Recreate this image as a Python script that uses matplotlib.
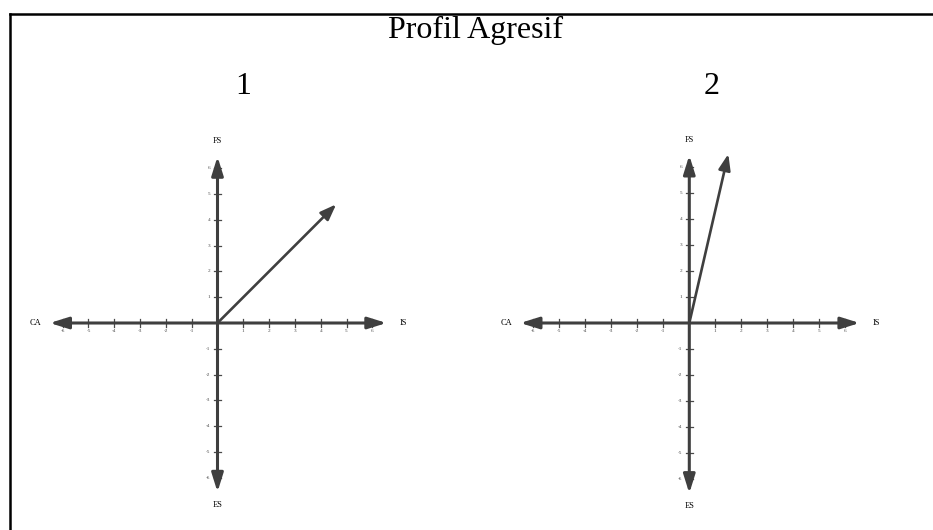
import numpy as np
import matplotlib
matplotlib.use('Agg')
import matplotlib.pyplot as plt
from matplotlib.lines import Line2D

plt.rcParams['font.family'] = ['Liberation Serif', 'DejaVu Serif']

title = 'Profil Agresif'
panel_names = ['1', '2']
# vector end point (IS/CA axis, FS/ES axis) for each panel
vec_x = [4.6, 1.5]
vec_y = [4.6, 6.5]
tick_values = [-6, -5, -4, -3, -2, -1, 1, 2, 3, 4, 5, 6]
axis_names = ['CA', 'IS', 'FS', 'ES']

DARK = '#3f3f3f'
LIM = 7.6


def draw_quadrant(ax, vx, vy):
    """Draws the two arrowed axes, ticks and the vector"""
    ax.set_xlim(-LIM, LIM)
    ax.set_ylim(-LIM, LIM)
    ax.axis('off')
    arrow_style = '<|-|>,head_length=0.8,head_width=0.25'
    ax.annotate('', xy=(6.55, 0), xytext=(-6.5, 0),
                arrowprops=dict(arrowstyle=arrow_style, color=DARK, lw=2.2,
                                shrinkA=0, shrinkB=0, mutation_scale=14))
    ax.annotate('', xy=(0, 6.45), xytext=(0, -6.55),
                arrowprops=dict(arrowstyle=arrow_style, color=DARK, lw=2.2,
                                shrinkA=0, shrinkB=0, mutation_scale=14))
    for t in tick_values:
        ax.plot([t, t], [-0.14, 0.14], color='#4a4a4a', lw=0.9)
        ax.plot([-0.14, 0.14], [t, t], color='#4a4a4a', lw=0.9)
        ax.text(t, -0.32, str(t), fontsize=3.8, ha='center', va='center',
                color='#4a4a4a')
        ax.text(-0.28, t, str(t), fontsize=3.8, ha='right', va='center',
                color='#4a4a4a')
    ax.annotate('', xy=(vx, vy), xytext=(0, 0),
                arrowprops=dict(arrowstyle='-|>,head_length=0.8,head_width=0.3',
                                color=DARK, lw=1.9, shrinkA=0, shrinkB=0,
                                mutation_scale=12))
    ax.text(-7.05, 0, axis_names[0], fontsize=6, ha='center', va='center')
    ax.text(7.2, 0, axis_names[1], fontsize=6, ha='center', va='center')
    ax.text(0, 7.05, axis_names[2], fontsize=6, ha='center', va='center')
    ax.text(0, -7.05, axis_names[3], fontsize=6, ha='center', va='center')


fig = plt.figure(figsize=(9.33, 5.30), dpi=100)
W, H = 933.0, 530.0

# (centre x, centre y, pixels per unit) of each panel
centres = [(217.5, 323.0, 25.8), (689.3, 323.0, 26.0)]
for i, (cx, cy, s) in enumerate(centres):
    half = LIM * s
    ax = fig.add_axes([(cx - half) / W, (H - cy - half) / H,
                       2 * half / W, 2 * half / H])
    draw_quadrant(ax, vec_x[i], vec_y[i])

fig.text(476 / W, 1 - 30 / H, title, fontsize=23, ha='center', va='center')
fig.text(243 / W, 1 - 87 / H, panel_names[0], fontsize=23, ha='center', va='center')
fig.text(712 / W, 1 - 87 / H, panel_names[1], fontsize=23, ha='center', va='center')

# frame lines along the top and left edge
fig.add_artist(Line2D([9.5 / W, 1.0], [1 - 13.5 / H, 1 - 13.5 / H],
                      transform=fig.transFigure, color='black', lw=1.8))
fig.add_artist(Line2D([9.5 / W, 9.5 / W], [0.0, 1 - 13.5 / H],
                      transform=fig.transFigure, color='black', lw=1.8))

fig.savefig('out.png', dpi=100)
